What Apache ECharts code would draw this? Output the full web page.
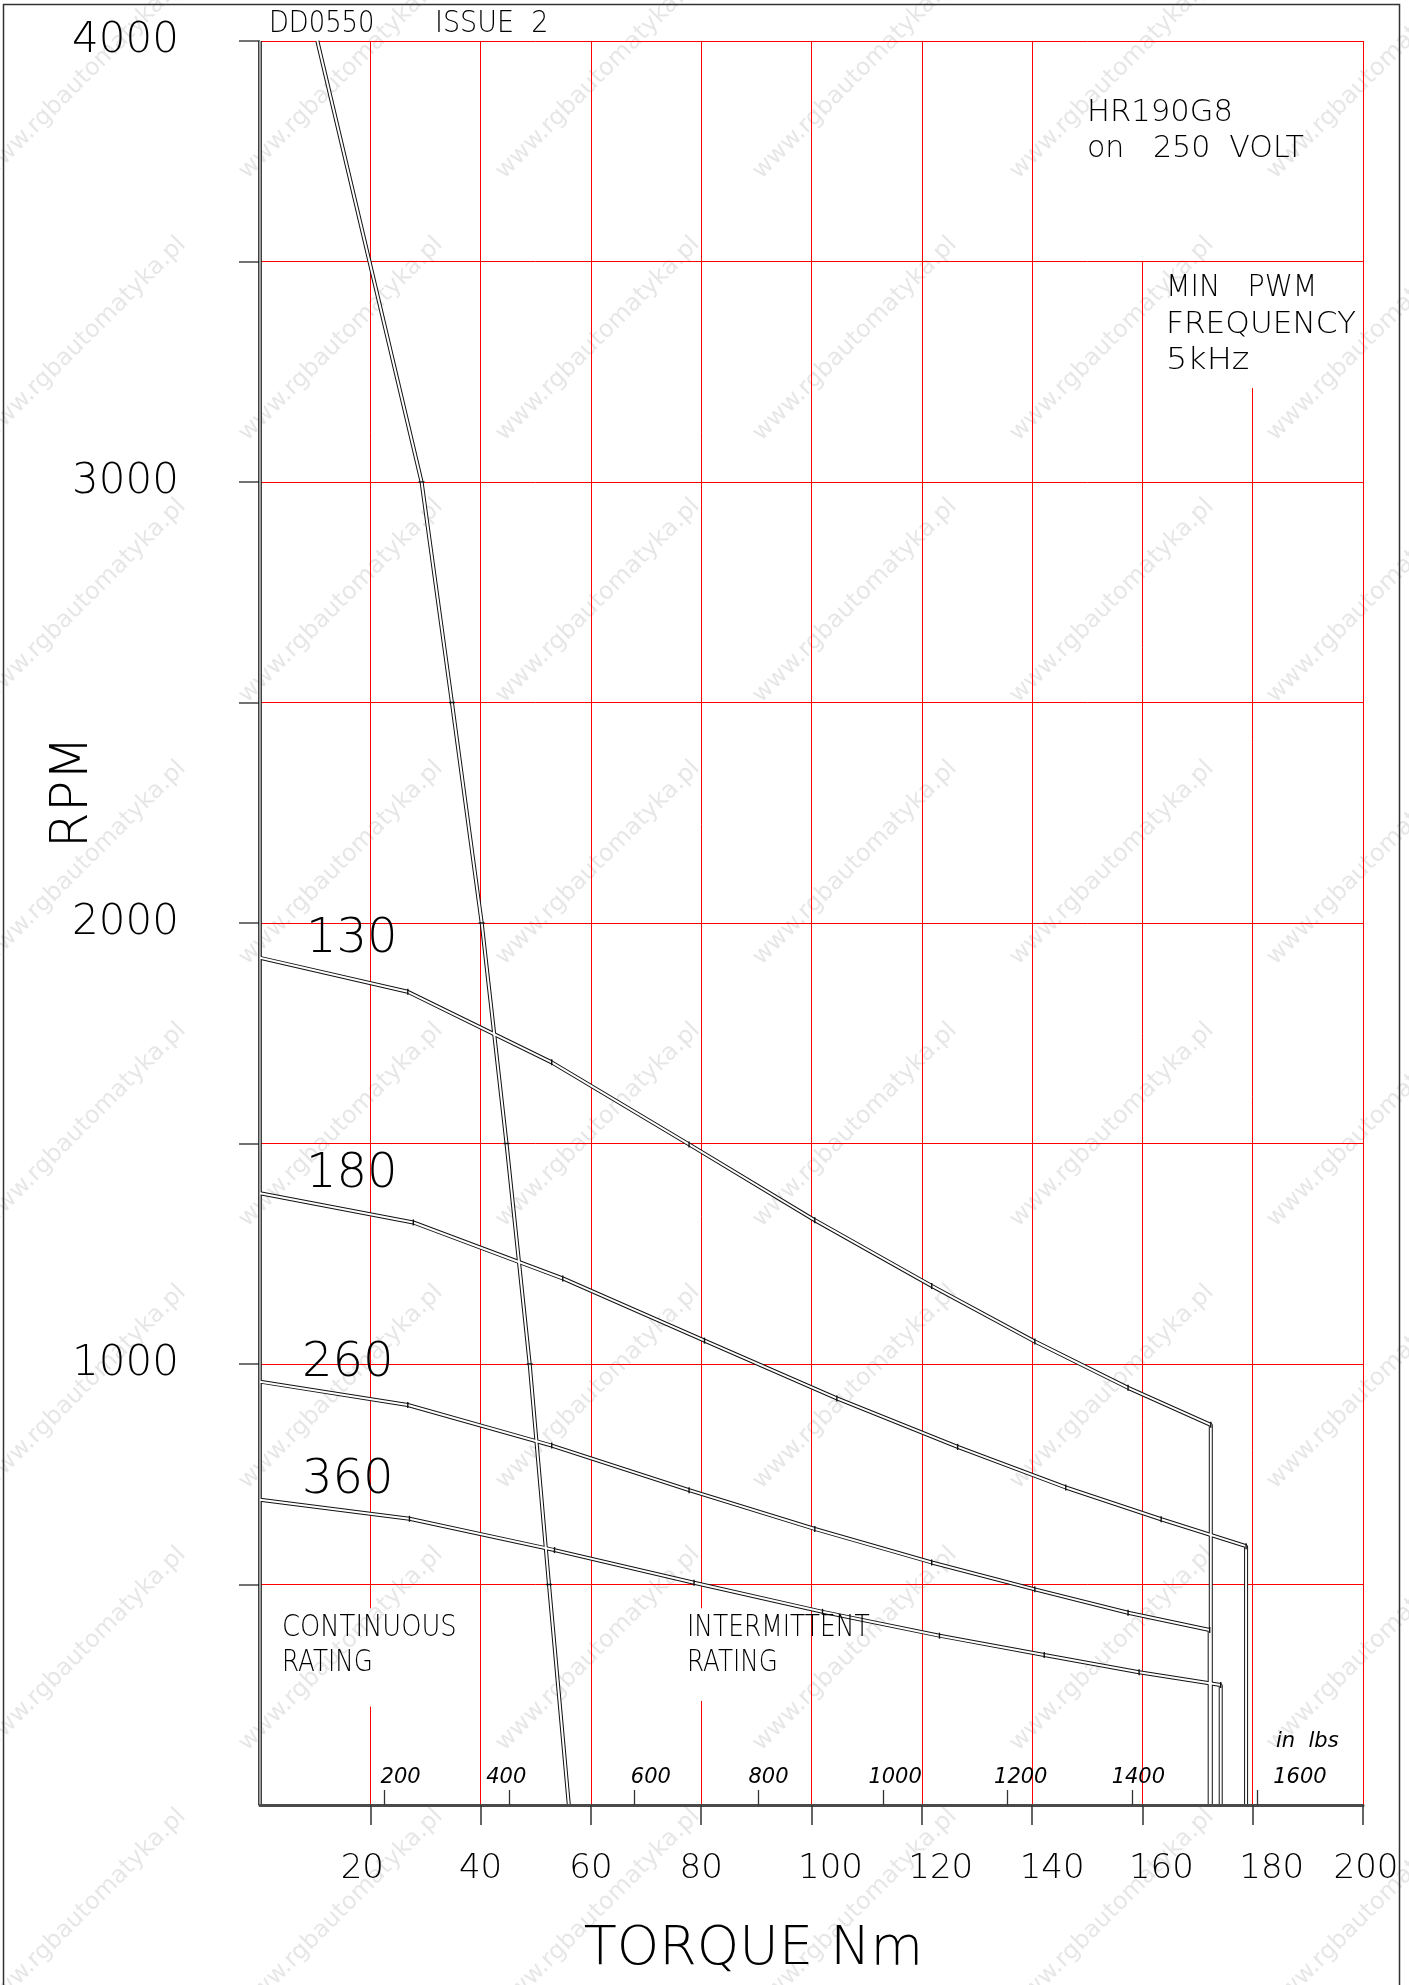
<!DOCTYPE html>
<html>
<head>
<meta charset="utf-8">
<title>HR190G8 on 250 VOLT</title>
<script src="https://cdn.jsdelivr.net/npm/echarts@6/dist/echarts.min.js"></script>
<style>
html, body { margin: 0; padding: 0; background: #fff; }
#chart { width: 1409px; height: 1985px; }
</style>
</head>
<body>
<div id="chart"></div>
<script>
// speed / torque curves of drawing DD0550 issue 2
const torqueTicks = [20, 40, 60, 80, 100, 120, 140, 160, 180, 200]
const rpmTicks = [500, 1000, 1500, 2000, 2500, 3000, 3500, 4000]
const rpmLabels = [1000, 2000, 3000, 4000]
const inlbTicks = [200, 400, 600, 800, 1000, 1200, 1400, 1600]

// continuous rating limit
const limitNm = [10.4, 29.3, 34.8, 40.2, 44.7, 48.9, 52.4, 56.0]
const limitRpm = [4000, 3000, 2500, 2000, 1500, 1000, 500, 0]

// intermittent curves, one per label
const curveNames = ['130', '180', '260', '360']
const curveNm = [
  [0, 26.8, 52.9, 77.8, 100.6, 121.8, 140.5, 157.4, 172.4, 172.4],
  [0, 27.8, 54.9, 80.6, 104.6, 126.5, 146.1, 163.4, 178.8, 178.8],
  [0, 26.8, 52.9, 77.8, 100.6, 121.8, 140.5, 157.4, 172.2, 172.2],
  [0, 27.1, 53.4, 78.7, 102.0, 123.2, 142.2, 159.4, 174.2, 174.2]
]
const curveRpm = [
  [1921, 1844, 1684, 1498, 1326, 1177, 1051, 946, 862, 0],
  [1387, 1321, 1194, 1053, 922, 812, 720, 648, 587, 0],
  [960, 907, 815, 714, 626, 550, 489, 436, 397, 0],
  [692, 649, 578, 504, 438, 384, 340, 301, 272, 0]
]

// red vertical grid, broken where the notes sit: [Nm, from rpm, to rpm]
const gridV = [
  [20, 0, 223], [20, 446, 4000], [40, 0, 4000], [60, 0, 4000],
  [80, 0, 236], [80, 446, 4000], [100, 0, 4000], [120, 0, 4000],
  [140, 0, 4000], [160, 0, 3500], [180, 0, 3213], [200, 0, 4000]
]

const NM_TO_INLB = 8.8507

// DejaVu Sans at weight 200 is the ExtraLight face, close to the plotter pen
const THIN = "'DejaVu Sans', sans-serif"
const INK = '#000'

// labels on the sheet are not centred on their ticks
const nmShift = { 20: -8, 100: 19, 120: 19, 140: 20, 160: 19, 180: 19, 200: 3 }
const inlbShift = { 200: 16, 400: -3, 600: 17, 800: 10, 1000: 12, 1200: 13, 1400: 6, 1600: 43 }

function shiftRich (shifts, base) {
  let rich = { n: Object.assign({}, base) }
  Object.keys(shifts).forEach(k => {
    let d = shifts[k]
    rich['s' + k] = Object.assign({}, base, {
      padding: d > 0 ? [0, 0, 0, 2 * d] : [0, -2 * d, 0, 0]
    })
  })
  return rich
}
function shiftFormatter (shifts) {
  return v => (shifts[v] !== undefined ? '{s' + v + '|' + v + '}' : '{n|' + v + '}')
}

function pairs (xs, ys) {
  return xs.map((x, i) => [x, ys[i]])
}
// vertex marks, none on the first and last point
function marked (xs, ys) {
  return xs.map((x, i) => {
    if (i === 0 || i === xs.length - 1) return { value: [x, ys[i]], symbol: 'none' }
    return [x, ys[i]]
  })
}

const nmLabelBase = { fontFamily: THIN, fontWeight: 200, fontSize: 34, lineHeight: 34, color: INK }
const inlbLabelBase = { fontFamily: THIN, fontWeight: 200, fontStyle: 'italic', fontSize: 21, lineHeight: 21, color: INK }

let series = []

series.push({
  name: 'grid',
  type: 'lines',
  coordinateSystem: 'cartesian2d',
  silent: true,
  z: 1,
  lineStyle: { color: '#ff0000', width: 1, opacity: 1, curveness: 0 },
  data: gridV.map(s => ({ coords: [[s[0], s[1]], [s[0], s[2]]] }))
})

// double drawn lines: wide black under, narrow white over
function doubleLine (name, data, hollow, inner, outer, mark) {
  series.push({
    name: name,
    type: 'line',
    data: data,
    symbol: 'none',
    clip: false,
    silent: true,
    z: 3,
    lineStyle: { color: '#111', width: outer }
  })
  series.push({
    name: name + '-in',
    type: 'line',
    data: hollow,
    symbol: mark ? 'rect' : 'none',
    symbolSize: mark,
    showSymbol: !!mark,
    clip: false,
    silent: true,
    z: 4,
    itemStyle: { color: '#111' },
    lineStyle: { color: '#fff', width: inner }
  })
}

doubleLine('axis', [[0, 0], [0, 4000]], [[0, 0], [0, 4000]], 1.2, 3.6, null)
doubleLine('limit', pairs(limitNm, limitRpm), marked(limitNm, limitRpm), 2, 4, [6, 1.4])
curveNames.forEach((n, k) => {
  doubleLine(n, pairs(curveNm[k], curveRpm[k]), marked(curveNm[k], curveRpm[k]), 2, 4, [1.4, 6])
})

// notes written on the sheet: text, left, middle, size, horizontal squeeze
const notes = [
  ['DD0550', 269, 24, 30, 0.86], ['ISSUE  2', 435, 24, 30, 0.9],
  ['HR190G8', 1087, 113, 30, 1.02], ['on   250  VOLT', 1087, 149, 30, 1],
  ['MIN   PWM', 1166, 288, 30, 0.95], ['FREQUENCY', 1166, 325, 30, 1.04], ['5kHz', 1166, 361, 31, 1.08],
  ['CONTINUOUS', 282, 1628, 30, 0.86], ['RATING', 282, 1663, 30, 0.82],
  ['INTERMITTENT', 687, 1628, 30, 0.83], ['RATING', 687, 1663, 30, 0.82]
]
const curveLabelPos = [[306, 940], [306, 1175], [302, 1364], [302, 1481]]

function textEl (text, x, y, font, align, extra) {
  return Object.assign({
    type: 'text',
    z: 50,
    silent: true,
    x: x,
    y: y,
    style: {
      text: text,
      fill: INK,
      font: font,
      align: align,
      verticalAlign: 'middle',
      textAlign: align,
      textVerticalAlign: 'middle'
    }
  }, extra || {})
}

let graphic = []
graphic.push({
  type: 'rect',
  z: 100,
  silent: true,
  shape: { x: 3.5, y: 4.5, width: 1396, height: 1995 },
  style: { fill: 'none', stroke: '#333', lineWidth: 1.5 }
})
for (let i = -4; i <= 2; i++) {
  for (let j = -5; j <= 3; j++) {
    let w = textEl('www.rgbautomatyka.pl', 855 + 257 * i, 1125 + 262 * j, '24px ' + THIN, 'center', {
      z: 0,
      rotation: Math.PI / 4
    })
    w.style.fill = 'rgba(90,90,90,0.15)'
    graphic.push(w)
  }
}
notes.forEach(t => {
  graphic.push(textEl(t[0], t[1], t[2], '200 ' + t[3] + 'px ' + THIN, 'left', { scaleX: t[4] }))
})
curveNames.forEach((n, k) => {
  graphic.push(textEl(n, curveLabelPos[k][0], curveLabelPos[k][1], '200 48px ' + THIN, 'left'))
})
graphic.push(textEl('in  lbs', 1276, 1742, 'italic 200 21px ' + THIN, 'left'))
graphic.push(textEl('RPM', 73, 792, '200 52px ' + THIN, 'center', { rotation: Math.PI / 2 }))

let chart = echarts.init(document.getElementById('chart'), null, { renderer: 'canvas' })
chart.setOption({
  animation: false,
  backgroundColor: '#fff',
  grid: { left: 260, right: 46, top: 41, bottom: 180, containLabel: false },
  xAxis: [
    {
      type: 'value',
      min: 0,
      max: 200,
      interval: 20,
      position: 'bottom',
      z: 10,
      axisLine: { show: true, onZero: false, lineStyle: { color: '#4a4a4a', width: 3 } },
      axisTick: { show: true, length: 20, customValues: torqueTicks, lineStyle: { color: '#333', width: 1.5 } },
      axisLabel: {
        show: true,
        margin: 47,
        customValues: torqueTicks,
        formatter: shiftFormatter(nmShift),
        rich: shiftRich(nmShift, nmLabelBase)
      },
      splitLine: { show: false },
      name: 'TORQUE Nm',
      nameLocation: 'middle',
      nameGap: 118,
      nameTextStyle: { fontFamily: THIN, fontWeight: 200, fontSize: 54, color: INK, padding: [0, 116, 0, 0] }
    },
    {
      type: 'value',
      min: 0,
      max: 200 * NM_TO_INLB,
      interval: 200,
      position: 'bottom',
      z: 10,
      axisLine: { show: false },
      axisTick: { show: true, inside: true, length: 15, customValues: inlbTicks, lineStyle: { color: '#333', width: 1.3 } },
      axisLabel: {
        show: true,
        inside: true,
        margin: 17,
        customValues: inlbTicks,
        formatter: shiftFormatter(inlbShift),
        rich: shiftRich(inlbShift, inlbLabelBase)
      },
      splitLine: { show: false }
    }
  ],
  yAxis: {
    type: 'value',
    min: 0,
    max: 4000,
    interval: 500,
    axisLine: { show: false },
    axisTick: { show: true, length: 21, customValues: rpmTicks, lineStyle: { color: '#444', width: 1.5 } },
    axisLabel: {
      show: true,
      margin: 81,
      customValues: rpmLabels,
      formatter: v => (v % 1000 === 0 && v > 0 ? String(v) : ''),
      fontFamily: THIN,
      fontWeight: 200,
      fontSize: 42,
      color: INK
    },
    splitLine: { show: true, lineStyle: { color: '#ff0000', width: 1 } }
  },
  graphic: graphic,
  series: series
})
</script>
</body>
</html>
